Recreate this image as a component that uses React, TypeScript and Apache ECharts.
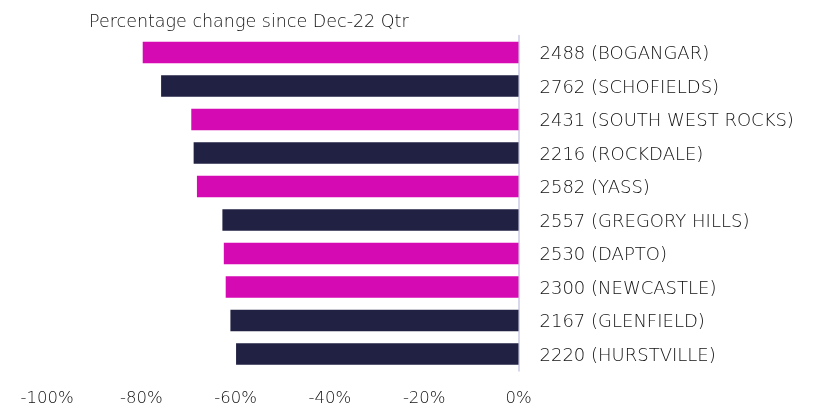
import React, { useEffect, useRef } from "react";
import * as echarts from "echarts";

const categories = [
  "2488 (BOGANGAR)",
  "2762 (SCHOFIELDS)",
  "2431 (SOUTH WEST ROCKS)",
  "2216 (ROCKDALE)",
  "2582 (YASS)",
  "2557 (GREGORY HILLS)",
  "2530 (DAPTO)",
  "2300 (NEWCASTLE)",
  "2167 (GLENFIELD)",
  "2220 (HURSTVILLE)",
];
const values = [-79.7, -75.8, -69.4, -68.9, -68.2, -62.8, -62.5, -62.1, -61.1, -59.9];
const regions = ["Regional", "Sydney", "Regional", "Sydney", "Regional", "Sydney", "Regional", "Regional", "Sydney", "Sydney"];
const regionNames = ["Regional", "Sydney"];
const title = "Percentage change since Dec-22 Qtr";
const xMin = -100;
const xMax = 0;
const xStep = 20;

const COLORS: Record<string, string> = { Regional: "#D60AB3", Sydney: "#202143" };
const FONT = "'DejaVu Sans', sans-serif";

export default function App() {
  const ref = useRef<HTMLDivElement>(null);
  useEffect(() => {
    if (!ref.current) return;
    const chart = echarts.init(ref.current, undefined, { renderer: "svg" });
    chart.setOption({
      animation: false,
      title: {
        text: title,
        left: 84,
        top: 7,
        textStyle: { fontFamily: FONT, fontSize: 17.5, fontWeight: 300, color: "#111" },
      },
      grid: { left: 47, right: 306.5, top: 35.75, bottom: 37.25, containLabel: false },
      xAxis: {
        type: "value",
        min: xMin,
        max: xMax,
        interval: xStep,
        axisLine: { show: false },
        axisTick: { show: false },
        splitLine: { show: false },
        axisLabel: {
          formatter: (v: number) => `${v}%`,
          fontFamily: FONT,
          fontSize: 16.5,
          fontWeight: 300,
          color: "#111",
          margin: 18,
        },
      },
      yAxis: {
        type: "category",
        data: categories,
        inverse: true,
        position: "right",
        axisLine: { show: true, lineStyle: { color: "#D8D8EC", width: 2 } },
        axisTick: { show: false },
        axisLabel: {
          fontFamily: FONT,
          fontSize: 18,
          fontWeight: 300,
          color: "#111",
          margin: 21,
          align: "left",
        },
      },
      series: regionNames.map((r) => ({
        type: "bar",
        name: r,
        stack: "all",
        barWidth: "64%",
        itemStyle: { color: COLORS[r] },
        data: values.map((v, i) => (regions[i] === r ? v : null)),
      })),
    });
    return () => chart.dispose();
  }, []);
  return (
    <div
      ref={ref}
      style={{ position: "fixed", left: 0, top: 0, width: 825, height: 408 }}
    />
  );
}
